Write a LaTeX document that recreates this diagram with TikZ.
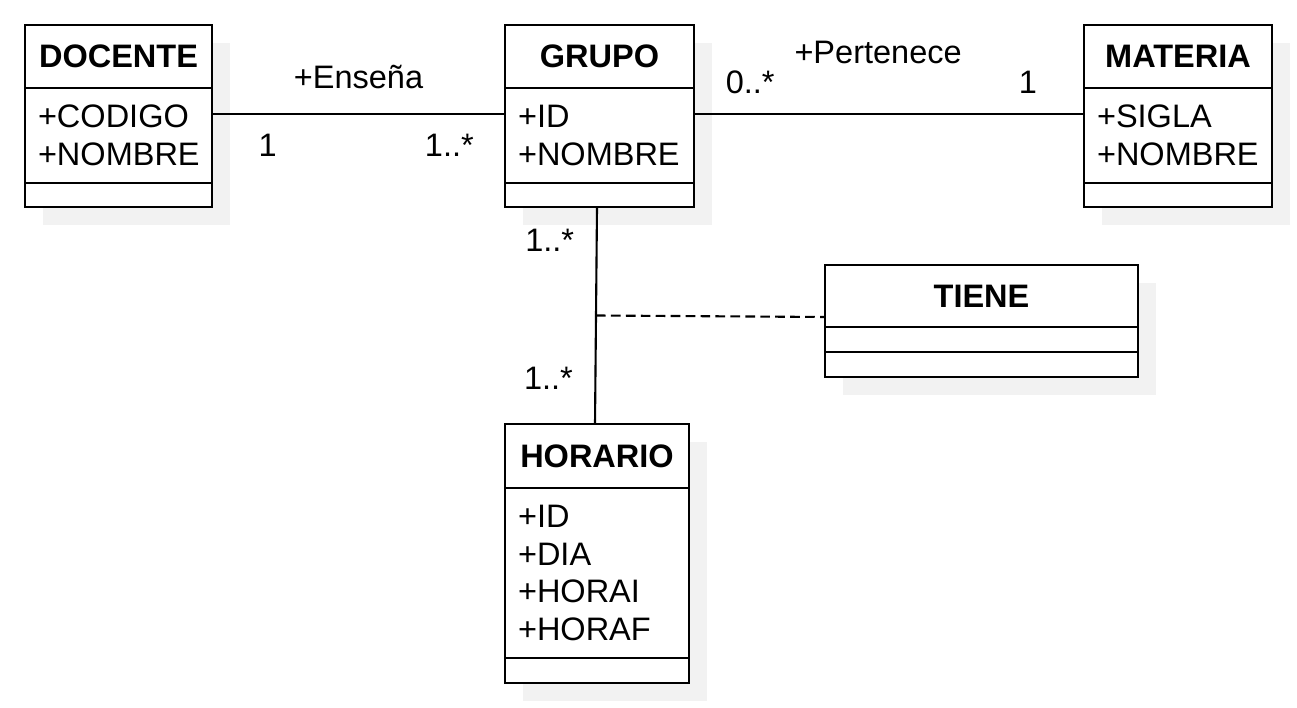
\documentclass[tikz,border=0pt]{standalone}
\usepackage{fontspec}
\setmainfont{Liberation Sans}
\usetikzlibrary{positioning,shadows}
\definecolor{shadowgray}{RGB}{242,242,242}

\begin{document}
\begin{tikzpicture}[x=0.02cm, y=-0.02cm,
         font = \fontsize{18.5}{21.5}\selectfont,
node distance = 0pt,
    cls/.style = {draw, line width=1.2pt, fill=white, outer sep=0pt, inner sep=0pt,
                  drop shadow={shadow xshift=0.36cm, shadow yshift=-0.36cm,
                               fill=shadowgray, opacity=1}},
   head/.style = {cls, font=\fontsize{18.5}{21.5}\selectfont\bfseries},
  attrs/.style = {cls, align=left, inner xsep=0.26cm},
   meth/.style = {cls},
  assoc/.style = {line width=1.2pt},
                    ]
\useasboundingbox (0,0) rectangle (1297,707);
% classes
\node (docH) [head, minimum width=3.74cm, minimum height=1.26cm] at (118.5,56.5) {DOCENTE};
\node (docA) [attrs, below=of docH, text width=3.22cm, minimum height=1.9cm] {+CODIGO\\+NOMBRE};
\node (docM) [meth, below=of docA, minimum width=3.74cm, minimum height=0.48cm] {};

\node (grpH) [head, minimum width=3.78cm, minimum height=1.26cm] at (599.5,56.5) {GRUPO};
\node (grpA) [attrs, below=of grpH, text width=3.26cm, minimum height=1.9cm] {+ID\\+NOMBRE};
\node (grpM) [meth, below=of grpA, minimum width=3.78cm, minimum height=0.48cm] {};

\node (matH) [head, minimum width=3.76cm, minimum height=1.26cm] at (1178,56.5) {MATERIA};
\node (matA) [attrs, below=of matH, text width=3.24cm, minimum height=1.9cm] {+SIGLA\\+NOMBRE};
\node (matM) [meth, below=of matA, minimum width=3.76cm, minimum height=0.48cm] {};

\node (tieH) [head, minimum width=6.26cm, minimum height=1.24cm] at (981.5,296) {TIENE};
\node (tieA) [meth, below=of tieH, minimum width=6.26cm, minimum height=0.5cm] {};
\node (tieM) [meth, below=of tieA, minimum width=6.26cm, minimum height=0.5cm] {};

\node (horH) [head, minimum width=3.68cm, minimum height=1.28cm] at (597,456) {HORARIO};
\node (horA) [attrs, below=of horH, text width=3.16cm, minimum height=3.4cm] {+ID\\+DIA\\+HORAI\\+HORAF};
\node (horM) [meth, below=of horA, minimum width=3.68cm, minimum height=0.5cm] {};

% associations
\draw[assoc] ([yshift=-0.52cm]docA.north east) --
      node[pos=0.19, yshift=-0.62cm] {1}
      node[pos=0.81, yshift=-0.62cm] {1..*}
      node[midway, yshift=0.74cm]    {+Enseña}
      ([yshift=-0.52cm]grpA.north west);
\draw[assoc] ([yshift=-0.52cm]grpA.north east) --
      node[pos=0.144, yshift=0.64cm] {0..*}
      node[pos=0.856, yshift=0.64cm] {1}
      node[pos=0.472, yshift=1.24cm] {+Pertenece}
      ([yshift=-0.52cm]matA.north west);
\draw[assoc] ([xshift=-0.05cm]grpM.south) --
      coordinate[midway] (tieMid)
      node[pos=0.152, xshift=-0.94cm] {1..*}
      node[pos=0.788, xshift=-0.94cm] {1..*}
      ([xshift=-0.04cm]horH.north);
\draw[assoc, dash pattern=on 5.5pt off 3pt] (tieMid) -- ([yshift=0.2cm]tieH.south west);
\end{tikzpicture}
\end{document}
